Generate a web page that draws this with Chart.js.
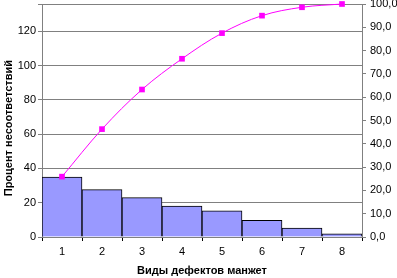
<!DOCTYPE html>
<html>
<head>
<meta charset="utf-8">
<script src="https://cdn.jsdelivr.net/npm/chart.js@4"></script>
<style>
  body { margin: 0; background: #fff; }
  canvas { display: block; }
</style>
</head>
<body>
<canvas id="paretoChart" width="397" height="278"></canvas>
<script>
// дефекты манжет
const categories = ['1', '2', '3', '4', '5', '6', '7', '8'];
const defectValues = [35.0, 27.6, 23.0, 18.1, 15.2, 9.7, 5.2, 1.9];
const cumulativePercent = [25.9, 46.3, 63.3, 76.5, 87.5, 95.0, 98.6, 100.0];
const leftTicks = [0, 20, 40, 60, 80, 100, 120];
const rightTicks = [0, 10, 20, 30, 40, 50, 60, 70, 80, 90, 100];

const gridGrey = '#808080';
const font = { family: 'Liberation Sans, Arial, sans-serif', size: 11 };
const boldFont = { family: 'Liberation Sans, Arial, sans-serif', size: 11, weight: 'bold' };

const ctx = document.getElementById('paretoChart').getContext('2d');

new Chart(ctx, {
    data: {
        labels: categories,
        datasets: [
            {
                type: 'line',
                data: cumulativePercent,
                yAxisID: 'y1',
                borderColor: '#FF00FF',
                backgroundColor: '#FF00FF',
                borderWidth: 1,
                tension: 0.35,
                pointStyle: 'rect',
                pointRadius: 4,
                pointBorderWidth: 0,
                clip: false,
                order: 0
            },
            {
                type: 'bar',
                data: defectValues,
                yAxisID: 'y',
                backgroundColor: '#9999FF',
                borderColor: '#000000',
                borderWidth: 1,
                barPercentage: 1,
                categoryPercentage: 1,
                order: 1
            }
        ]
    },
    options: {
        responsive: false,
        animation: false,
        devicePixelRatio: 1,
        layout: { padding: { top: 4, left: 0, right: 0, bottom: 0 } },
        plugins: {
            legend: { display: false },
            tooltip: { enabled: false }
        },
        scales: {
            x: {
                offset: true,
                grid: {
                    offset: true,
                    drawOnChartArea: false,
                    color: '#000000',
                    tickLength: 4
                },
                border: { color: gridGrey },
                ticks: { color: '#000', font: font, padding: 4 },
                title: {
                    display: true,
                    text: 'Виды дефектов манжет',
                    color: '#000',
                    font: boldFont,
                    padding: { top: 0, bottom: 0 }
                },
                afterFit: function (scale) {
                    scale.height = 41;
                    scale.paddingLeft = 0;
                    scale.paddingRight = 0;
                }
            },
            y: {
                position: 'left',
                min: 0,
                max: 135.9,
                afterBuildTicks: function (scale) {
                    scale.ticks = leftTicks.map(v => ({ value: v })).concat([{ value: 135.9 }]);
                },
                ticks: {
                    color: '#000',
                    font: font,
                    padding: 2,
                    callback: function (value) {
                        return leftTicks.includes(value) ? String(value) : '';
                    }
                },
                grid: { color: gridGrey, tickLength: 4 },
                border: { color: gridGrey },
                title: {
                    display: true,
                    // пробелы в конце немного опускают подпись, как в оригинале
                    text: 'Процент несоответствий     ',
                    color: '#000',
                    font: boldFont,
                    padding: { top: 2, bottom: 0 }
                },
                afterFit: function (scale) {
                    scale.width = 42;
                    scale.paddingTop = 0;
                    scale.paddingBottom = 0;
                }
            },
            y1: {
                position: 'right',
                min: 0,
                max: 100,
                afterBuildTicks: function (scale) {
                    scale.ticks = rightTicks.map(v => ({ value: v }));
                },
                ticks: {
                    color: '#000',
                    font: font,
                    padding: 4,
                    callback: function (value) {
                        return value.toFixed(1).replace('.', ',');
                    }
                },
                grid: { drawOnChartArea: false, color: gridGrey, tickLength: 4 },
                border: { color: gridGrey },
                afterFit: function (scale) {
                    scale.width = 35;
                    scale.paddingTop = 0;
                    scale.paddingBottom = 0;
                }
            }
        }
    }
});
</script>
</body>
</html>
